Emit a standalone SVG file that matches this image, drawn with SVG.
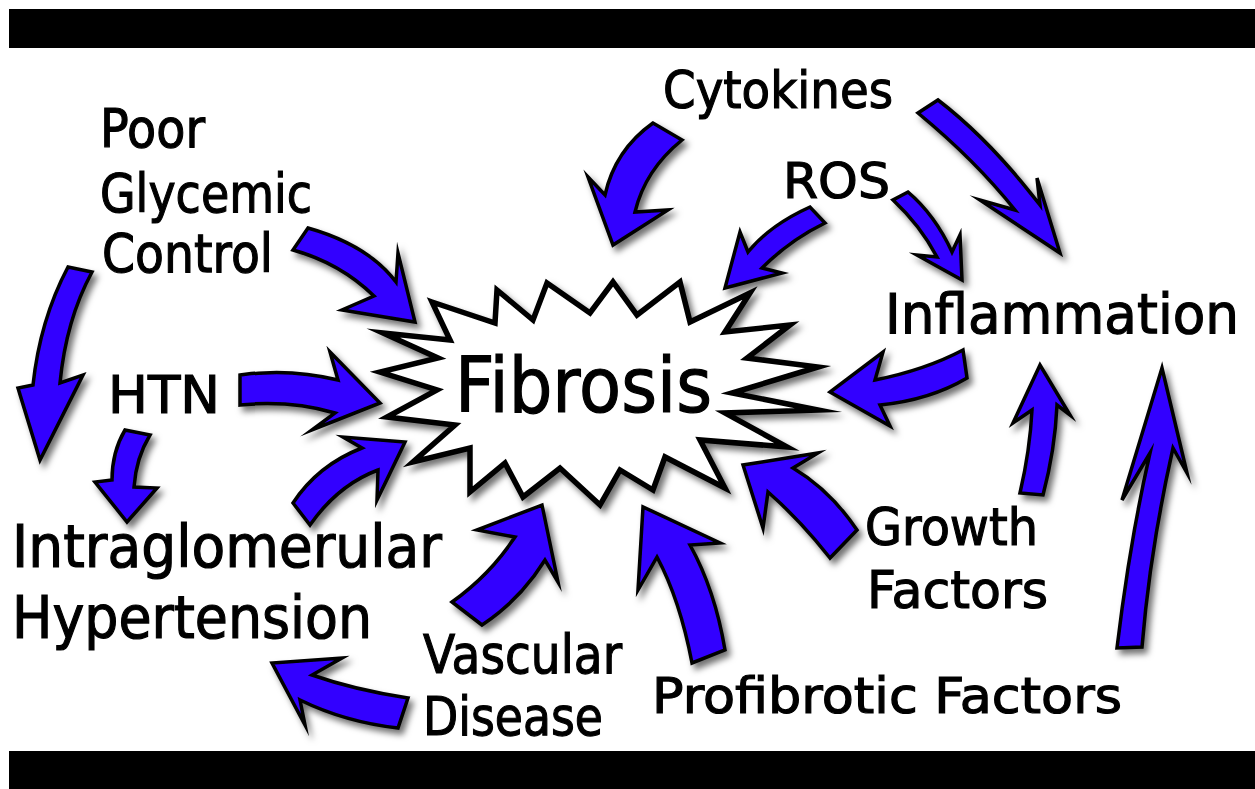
<svg xmlns="http://www.w3.org/2000/svg" width="1255" height="789" viewBox="0 0 1255 789">
<defs>
<filter id="sh" x="-30%" y="-30%" width="160%" height="160%">
<feDropShadow dx="4" dy="5" stdDeviation="3" flood-color="#000" flood-opacity="0.55"/>
</filter>
<style>
.lbl{font-family:"Comic Sans MS","DejaVu Sans","Liberation Sans",sans-serif;fill:#000;stroke:#000;stroke-width:1.2;}
.arr{fill:#3300FF;stroke:#000;stroke-width:3.5;stroke-linejoin:miter;stroke-miterlimit:8;filter:url(#sh);}
.star{fill:#fff;stroke:#000;stroke-width:5.5;stroke-linejoin:miter;stroke-miterlimit:10;filter:url(#sh);}
</style>
</defs>
<rect width="1255" height="789" fill="#fff"/>
<rect x="9" y="9" width="1246" height="39" fill="#000"/>
<rect x="9" y="751" width="1246" height="38" fill="#000"/>

<g id="connectors">
<path class="arr" d="M293,250 L308,228 Q368,245 396,282 L398,253 L415,322 L342,310 L374,296 Q340,263 293,250 Z"/>
<path class="arr" d="M68,267 L92,272 Q66,320 60,383 L83,375 L40,460 L18,388 L33,385 Q40,320 68,267 Z"/>
<path class="arr" d="M240,375 Q290,368 338,380 L330,352 L380,403 L312,430 L335,413 Q290,400 240,405 Z"/>
<path class="arr" d="M125,430 L150,435 Q136,458 134,487 L157,488 L127,522 L95,482 L112,480 Q112,452 125,430 Z"/>
<path class="arr" d="M293,503 Q318,465 362,448 L343,437 L405,442 L377,500 L378,470 Q338,485 310,525 Z"/>
<path class="arr" d="M408,698 Q355,690 312,675 L342,658 L272,663 L305,725 L300,700 Q345,722 398,728 Z"/>
<path class="arr" d="M452,602 Q490,575 515,537 L477,530 L542,505 L558,582 L545,560 Q520,600 482,625 Z"/>
<path class="arr" d="M692,663 Q680,600 657,557 L638,590 L643,507 L720,543 L690,545 Q715,590 725,650 Z"/>
<path class="arr" d="M857,530 Q830,490 793,468 L818,453 L743,465 L763,528 L768,492 Q800,520 830,558 Z"/>
<path class="arr" d="M963,350 Q925,370 875,380 L883,352 L830,392 L890,426 L880,405 Q930,400 967,378 Z"/>
<path class="arr" d="M1020,493 Q1030,450 1032,410 L1013,423 L1040,365 L1070,415 L1057,405 Q1055,450 1043,495 Z"/>
<path class="arr" d="M1117,648 Q1130,540 1150,453 L1122,500 L1162,368 L1187,473 L1173,448 Q1150,550 1142,647 Z"/>
<path class="arr" d="M653,123 Q615,150 605,195 L588,177 L613,245 L668,210 L635,212 Q645,170 682,140 Z"/>
<path class="arr" d="M810,207 Q770,225 748,252 L740,232 L725,288 L782,273 L762,268 Q790,240 825,223 Z"/>
<path class="arr" d="M893,200 Q920,225 937,257 L917,255 L962,280 L960,235 L952,252 Q935,215 908,192 Z"/>
<path class="arr" d="M918,113 Q975,160 1015,210 L980,200 L1060,253 L1037,178 L1040,205 Q990,140 938,100 Z"/>
</g>

<g id="fibrosis">
<polygon class="star" points="432,302 495,323 497,290 533,320 547,283 590,313 613,282 637,315 680,282 690,322 750,293 725,332 790,325 747,358 818,367 732,393 818,410 725,413 787,447 700,440 725,488 665,457 653,490 620,470 600,505 560,468 523,497 505,463 470,492 470,448 413,462 455,425 387,417 437,390 380,372 438,358 383,333 450,340"/>
<text class="lbl" x="455" y="412" font-size="76" textLength="257" lengthAdjust="spacingAndGlyphs">Fibrosis</text>
</g>

<g id="poor-glycemic-control">
<text class="lbl" x="100" y="147" font-size="54" textLength="105" lengthAdjust="spacingAndGlyphs">Poor</text>
<text class="lbl" x="100" y="212" font-size="54" textLength="212" lengthAdjust="spacingAndGlyphs">Glycemic</text>
<text class="lbl" x="102" y="272" font-size="54" textLength="171" lengthAdjust="spacingAndGlyphs">Control</text>
</g>
<g id="htn">
<text class="lbl" x="108" y="413" font-size="52" textLength="112" lengthAdjust="spacingAndGlyphs">HTN</text>
</g>
<g id="intraglomerular-hypertension">
<text class="lbl" x="12" y="567" font-size="58" textLength="430" lengthAdjust="spacingAndGlyphs">Intraglomerular</text>
<text class="lbl" x="12" y="638" font-size="58" textLength="360" lengthAdjust="spacingAndGlyphs">Hypertension</text>
</g>
<g id="cytokines">
<text class="lbl" x="663" y="108" font-size="52" textLength="230" lengthAdjust="spacingAndGlyphs">Cytokines</text>
</g>
<g id="ros">
<text class="lbl" x="783" y="198" font-size="50" textLength="107" lengthAdjust="spacingAndGlyphs">ROS</text>
</g>
<g id="inflammation">
<text class="lbl" x="885" y="333" font-size="55" textLength="354" lengthAdjust="spacingAndGlyphs">Inflammation</text>
</g>
<g id="growth-factors">
<text class="lbl" x="865" y="545" font-size="52" textLength="173" lengthAdjust="spacingAndGlyphs">Growth</text>
<text class="lbl" x="867" y="608" font-size="52" textLength="181" lengthAdjust="spacingAndGlyphs">Factors</text>
</g>
<g id="vascular-disease">
<text class="lbl" x="423" y="673" font-size="54" textLength="199" lengthAdjust="spacingAndGlyphs">Vascular</text>
<text class="lbl" x="423" y="735" font-size="54" textLength="180" lengthAdjust="spacingAndGlyphs">Disease</text>
</g>
<g id="profibrotic-factors">
<text class="lbl" x="652" y="713" font-size="50" textLength="470" lengthAdjust="spacingAndGlyphs">Profibrotic Factors</text>
</g>
</svg>
